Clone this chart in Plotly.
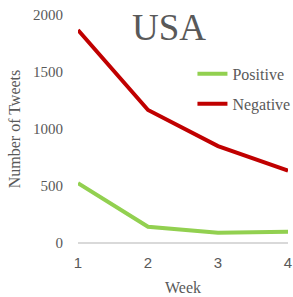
import plotly.graph_objects as go

weeks = [1, 2, 3, 4]
positive = [524, 143, 90, 99]
negative = [1868, 1167, 850, 634]

serif = "Liberation Serif"
gray = "#595959"

fig = go.Figure()
fig.add_trace(go.Scatter(x=weeks, y=positive, mode="lines", name="Positive", legendgroup="p",
                         line=dict(color="#92D050", width=4), cliponaxis=False))
fig.add_trace(go.Scatter(x=weeks, y=negative, mode="lines", name="Negative", legendgroup="n",
                         line=dict(color="#C00000", width=4), cliponaxis=False))

fig.update_layout(
    width=293, height=297,
    margin=dict(l=78, r=5, t=15, b=54, autoexpand=False),
    paper_bgcolor="white", plot_bgcolor="white",
    title=dict(text="USA", x=0.577, xanchor="center", y=0.91, yanchor="middle",
               font=dict(family=serif, size=37, color=gray)),
    legend=dict(x=0.545, y=0.816, xanchor="left", yanchor="top",
                font=dict(family=serif, size=16, color=gray),
                bgcolor="rgba(0,0,0,0)", tracegroupgap=6, traceorder="grouped"),
    showlegend=True,
)
fig.update_xaxes(range=[1, 4], tickvals=weeks, ticktext=[str(w) for w in weeks],
                 showgrid=False, zeroline=False, showline=False, automargin=False,
                 ticks="", ticklabelstandoff=9,
                 tickfont=dict(family="Liberation Sans", size=15, color=gray),
                 title=dict(text="Week", font=dict(family=serif, size=16, color=gray), standoff=11))
fig.update_yaxes(range=[0, 2000], tickvals=[0, 500, 1000, 1500, 2000],
                 showgrid=False, zeroline=True, zerolinecolor="#D9D9D9", zerolinewidth=2,
                 showline=False, ticks="", ticklabelstandoff=14, automargin=False,
                 tickfont=dict(family=serif, size=15, color=gray),
                 title=dict(text="Number of Tweets", font=dict(family=serif, size=16, color=gray), standoff=8))

fig.write_html("out.html", config={"displayModeBar": False},
               post_script="document.body.style.margin='0';")
